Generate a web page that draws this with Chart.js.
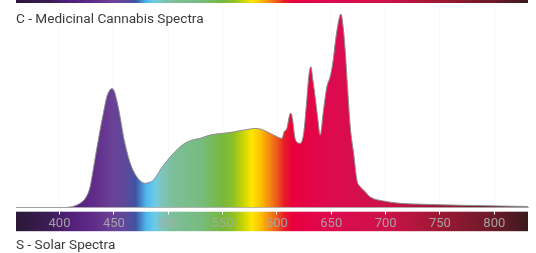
<!DOCTYPE html>
<html>
<head>
<meta charset="utf-8">
<script src="https://cdn.jsdelivr.net/npm/chart.js@4"></script>
<style>
  body { margin: 0; background: #fff; font-family: Roboto, sans-serif; }
  #wrap { position: relative; width: 536px; height: 253px; }
  .caption { position: absolute; left: 16px; font-size: 13.6px; line-height: 14px; color: #3a3a3a; white-space: nowrap; }
</style>
</head>
<body>
<div id="wrap">
  <canvas id="spectra"></canvas>
  <div class="caption" style="top:10.9px;">C - Medicinal Cannabis Spectra</div>
  <div class="caption" style="top:236.9px;">S - Solar Spectra</div>
</div>
<script>
// wavelength (nm) and relative intensity
const wavelengths = [360, 380, 395, 400, 405, 410, 415, 420, 424, 428, 431, 434, 437.4, 440.5, 443.6, 446, 448.2, 450.5, 452.5, 454.6, 456.8, 458.9, 462, 465, 468, 471, 475, 478.8, 482.5, 486.5, 489.5, 492.6, 497, 501.8, 506.5, 511, 517.5, 523, 529.4, 538.6, 549, 559.8, 567, 575.4, 580, 584.6, 590.8, 596.9, 604.6, 606.7, 609.2, 611.7, 612.9, 614.5, 616.4, 619.1, 621.4, 624.6, 627.5, 629.3, 631.3, 633.1, 635.2, 637.4, 639.8, 642.9, 646, 649, 651.5, 653.6, 656, 658.9, 661, 662.8, 665, 667.5, 670.6, 673.6, 676.5, 679.7, 685.9, 698, 713.5, 735, 759.5, 780, 805, 831];
const intensity = [0, 0, 0, 0, 0, 0.5, 2, 5, 9.5, 20, 37.5, 57, 77.5, 95, 110.8, 117, 119, 116, 108, 97.5, 84, 70.8, 56, 44.5, 36.5, 30.8, 26, 24.2, 25, 27.5, 32, 37.5, 44, 50.5, 56, 60.8, 65.5, 67.7, 69.2, 72.5, 74, 75.5, 77, 78.5, 79, 78.5, 75.8, 72.5, 69.2, 75.8, 79.2, 92.5, 94.2, 87.5, 70.8, 64.8, 64.2, 74, 107.5, 130.8, 140.8, 127.5, 110.8, 90.8, 72.5, 97.5, 120.8, 130.8, 145, 164, 182, 193.5, 180, 157.5, 120, 80.8, 54, 27.5, 21, 17.5, 10.5, 6.5, 4.2, 3.2, 2.5, 2, 1.5, 1];
const tickValues = [400, 450, 500, 550, 600, 650, 700, 750, 800];

// spectrum colour stops
const stopNm = [360, 390, 410, 430, 448, 462, 470, 480, 488, 495, 505, 530, 550, 560, 570, 577, 585, 592, 600, 607, 615, 650, 700, 750, 800, 831];
const stopColors = ['#2a1838', '#3c1c55', '#52207a', '#5e2b88', '#6a4096', '#5a4a9c', '#3f53a3', '#4fb8ec', '#6ccbe6', '#7ec4b8', '#7cbf98', '#78bb80', '#76b83c', '#8cc028', '#cfd800', '#ffe600', '#fcc000', '#f59010', '#ee5a1c', '#e61c28', '#e8003e', '#de0a50', '#cc1248', '#9c1834', '#6a1a28', '#3a1a1e'];

function spectrumGradient(chart) {
  const xs = chart.scales.x;
  const area = chart.chartArea;
  const g = chart.ctx.createLinearGradient(area.left, 0, area.right, 0);
  const w = area.right - area.left;
  stopNm.forEach((nm, i) => {
    const pos = (xs.getPixelForValue(nm) - area.left) / w;
    g.addColorStop(Math.min(1, Math.max(0, pos)), stopColors[i]);
  });
  return g;
}

const spectrumBars = {
  id: 'spectrumBars',
  beforeDraw(chart) {
    const { ctx, chartArea } = chart;
    ctx.save();
    ctx.fillStyle = spectrumGradient(chart);
    ctx.fillRect(chartArea.left, 211.7, chartArea.right - chartArea.left, 19.5);
    ctx.fillRect(chartArea.left, 0, chartArea.right - chartArea.left, 3);
    ctx.restore();
  }
};

new Chart(document.getElementById('spectra'), {
  type: 'line',
  data: {
    datasets: [{
      data: wavelengths.map((nm, i) => ({ x: nm, y: intensity[i] })),
      borderColor: '#8c8c8c',
      borderWidth: 1,
      pointRadius: 0,
      fill: 'origin',
      cubicInterpolationMode: 'monotone',
      backgroundColor: ctx => ctx.chart.chartArea ? spectrumGradient(ctx.chart) : '#ccc'
    }]
  },
  options: {
    responsive: true,
    maintainAspectRatio: false,
    animation: false,
    layout: { padding: { left: 16, right: 8, top: 7.5, bottom: 0 } },
    plugins: { legend: { display: false }, tooltip: { enabled: false } },
    scales: {
      x: {
        type: 'linear',
        min: 360,
        max: 831,
        afterBuildTicks: s => { s.ticks = tickValues.map(v => ({ value: v })); },
        afterFit: s => { s.height = 45.5; },
        border: { color: '#b4b4b4', width: 1 },
        grid: { color: '#f7f7f7', tickColor: '#ffffff', tickLength: 7, lineWidth: 1 },
        ticks: {
          autoSkip: false,
          maxRotation: 0,
          padding: 1,
          color: 'rgba(170,170,170,0.92)',
          font: { family: 'Roboto', size: 13 }
        }
      },
      y: { display: false, min: 0, max: 200 }
    }
  },
  plugins: [spectrumBars]
});
</script>
</body>
</html>
